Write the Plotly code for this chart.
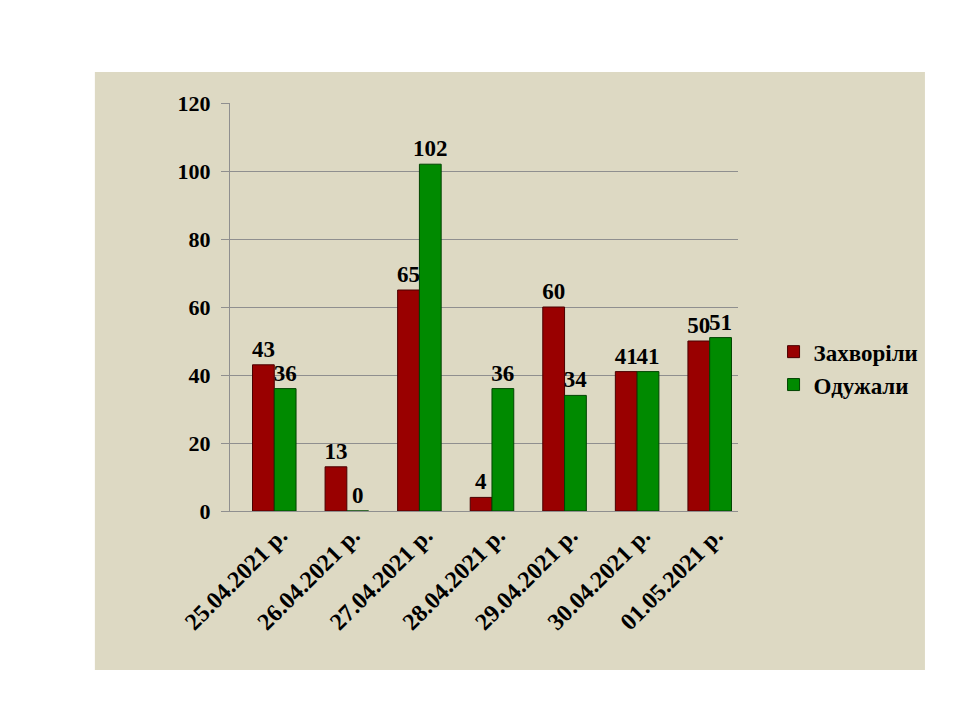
import plotly.graph_objects as go

dates = ["25.04.2021 р.", "26.04.2021 р.", "27.04.2021 р.", "28.04.2021 р.",
         "29.04.2021 р.", "30.04.2021 р.", "01.05.2021 р."]
sick = [43, 13, 65, 4, 60, 41, 50]
recovered = [36, 0, 102, 36, 34, 41, 51]
series_names = ["Захворіли", "Одужали"]
y_ticks = [0, 20, 40, 60, 80, 100, 120]

serif = "Liberation Serif, Times New Roman, serif"
panel = "#DDD9C3"
grid = "#8f8f8f"
label_font = dict(family=serif, size=23, color="black", weight="bold")

fig = go.Figure()
# bars are nudged a little to the right, like the 3D original
fig.add_trace(go.Bar(x=dates, y=sick, name=series_names[0],
                     width=0.3, offset=-0.19,
                     marker=dict(color="#990000", line=dict(color="#4a0000", width=1)),
                     text=sick, textposition="outside", cliponaxis=False,
                     constraintext="none", textfont=label_font))
fig.add_trace(go.Bar(x=dates, y=recovered, name=series_names[1],
                     width=0.3, offset=0.11,
                     marker=dict(color="#008a00", line=dict(color="#004400", width=1)),
                     text=recovered, textposition="outside", cliponaxis=False,
                     constraintext="none", textfont=label_font))

# beige slide panel behind the chart
fig.add_shape(type="rect", xref="paper", yref="paper",
              x0=-0.266, x1=1.368, y0=-0.39, y1=1.076,
              fillcolor=panel, line=dict(width=0), layer="below")

fig.update_layout(
    width=960, height=720,
    paper_bgcolor="white", plot_bgcolor="rgba(0,0,0,0)",
    margin=dict(l=222, r=230, t=95, b=217),
    barmode="group",
    font=dict(family=serif, color="black"),
    legend=dict(x=1.07, y=0.35, xanchor="left", yanchor="middle",
                bgcolor="rgba(0,0,0,0)", tracegroupgap=4,
                font=dict(family=serif, size=23, color="black", weight="bold")),
)
fig.update_yaxes(range=[0, 120], tickvals=y_ticks, showgrid=True, gridcolor=grid,
                 gridwidth=1, showline=True, linecolor=grid, ticks="outside",
                 tickcolor=grid, ticklen=8, zeroline=False, ticklabelstandoff=6,
                 tickfont=dict(family=serif, size=22, color="black", weight="bold"))
fig.update_xaxes(tickangle=-45, showline=True, linecolor=grid, ticks="",
                 ticklabelshift=14,
                 tickfont=dict(family=serif, size=24, color="black", weight="bold"))

fig.write_html("out.html")
